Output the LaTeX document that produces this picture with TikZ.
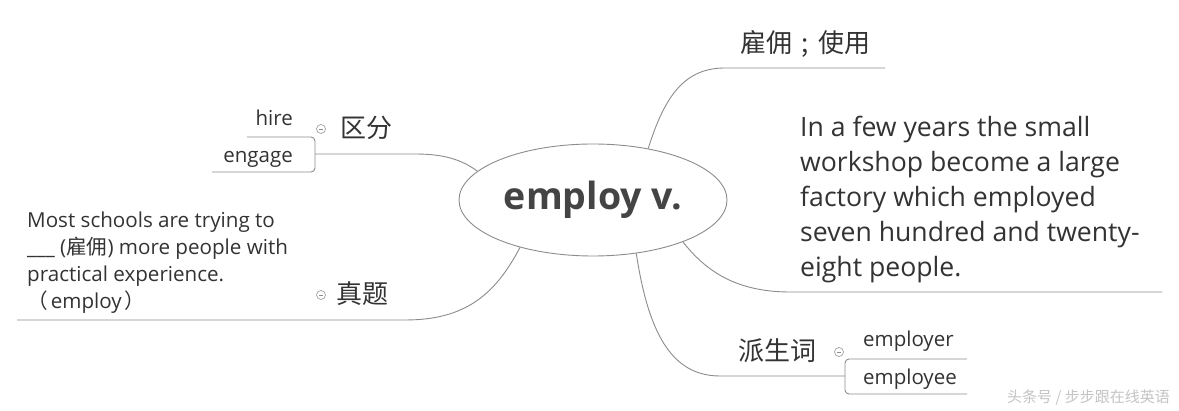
\documentclass[tikz,border=0pt]{standalone}
\usepackage{fontspec}
\setmainfont{Open Sans}
\newfontfamily\cjk{Noto Sans CJK SC}
\usetikzlibrary{shapes.geometric}
\definecolor{linegray}{HTML}{8C8C8C}
\definecolor{txt}{HTML}{333333}
\definecolor{central}{HTML}{444444}
\definecolor{wm}{HTML}{C4C4C4}
\begin{document}
\begin{tikzpicture}[x=1pt,y=-1pt,
  conn/.style={draw=linegray,line width=0.9pt},
  zhlabel/.style={font=\cjk\fontsize{26}{30}\selectfont,text=txt,inner sep=0pt,anchor=base west},
  enlabel/.style={font=\fontsize{20.5}{25}\selectfont,text=txt,inner sep=0pt},
  collapse/.style={circle,draw=linegray!80,line width=0.7pt,minimum size=9pt,inner sep=0pt,
    path picture={\draw[linegray,line width=0.7pt] ([xshift=-2.2pt]path picture bounding box.center) -- ([xshift=2.2pt]path picture bounding box.center);}},
]
\fill[white] (0,0) rectangle (1179,411);
\useasboundingbox (0,0) rectangle (1179,411);

% central node
\node[ellipse,draw=linegray,line width=0.9pt,minimum width=268pt,minimum height=112pt,inner sep=0pt,
  font=\bfseries\fontsize{37.5}{40}\selectfont,text=central] (c) at (593,200) {\raisebox{-3pt}{employ v.}};

% top right: meaning
\node[zhlabel] (mean) at (740,53) {雇佣\makebox[26pt]{;}使用};
\coordinate (meanEnd) at (885,68);
\draw[conn] (c.43) .. controls (665,95) and (685,68) .. (725,68) -- (meanEnd);

% right: example sentence (base anchor = last line)
\node[font=\fontsize{26.6}{35}\selectfont,text=txt,inner sep=0pt,anchor=base west,align=left] (ex) at (800,277)
  {In a few years the small\\workshop become a large\\factory which employed\\seven hundred and twenty-\\eight people.};
\coordinate (exEnd) at (1162,292);
\draw[conn] (c.-25) .. controls (705,270) and (735,292) .. (790,292) -- (exEnd);

% bottom right: derivatives
\node[zhlabel] (der) at (738,361) {派生词};
\node[collapse] (derc) at (839,352) {};
\coordinate (derJ) at (845,376);
\draw[conn] (c.-51) .. controls (648,330) and (670,376) .. (720,376) -- (derJ);
\node[enlabel,anchor=base west] (er) at (863,347) {employer};
\node[enlabel,anchor=base west] (ee) at (863,385) {employee};
\coordinate (erEnd) at (967,359);
\coordinate (eeEnd) at (967,394);
\draw[conn,rounded corners=4pt] (erEnd) -- (845,359) -- (845,394) -- (eeEnd);

% left top: distinguish
\node[zhlabel] (dist) at (340,138) {区分};
\node[collapse] (distc) at (321,129) {};
\coordinate (distJ) at (315,154);
\draw[conn] (c.166) .. controls (462,160) and (445,154) .. (415,154) -- (distJ);
\node[enlabel,anchor=base east] (hire) at (293,126) {hire};
\node[enlabel,anchor=base east] (engage) at (293,163) {engage};
\coordinate (hireEnd) at (247,137);
\coordinate (engageEnd) at (212,172);
\draw[conn,rounded corners=4pt] (hireEnd) -- (315,137) -- (315,172) -- (engageEnd);

% left bottom: exam question (base anchor = last line)
\node[zhlabel] (exam) at (336,304) {真题};
\node[collapse] (examc) at (321,295) {};
\node[font=\fontsize{20.6}{27}\selectfont,text=txt,inner sep=0pt,anchor=base west,align=left] (q) at (27,309)
  {Most schools are trying to\\\_\_\_ ({\cjk 雇佣}) more people with\\practical experience.\\{\cjk （}\hspace{3pt}employ\hspace{3pt}{\cjk ）}};
\coordinate (examEnd) at (17,320);
\draw[conn] (c.213) .. controls (495,295) and (465,320) .. (405,320) -- (examEnd);

% watermark
\node[font=\cjk\fontsize{15}{18}\selectfont,text=wm,inner sep=0pt,anchor=east] (wmk) at (1170,398) {头条号 / 步步跟在线英语};
\end{tikzpicture}
\end{document}
